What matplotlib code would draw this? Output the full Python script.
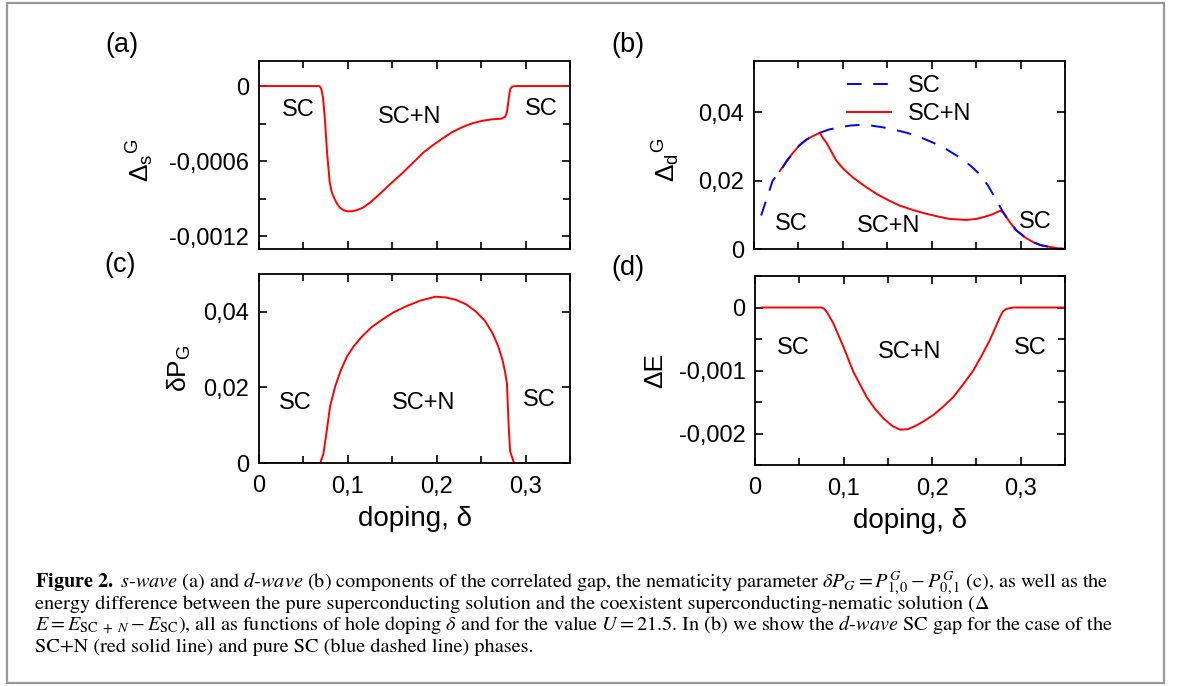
import numpy as np
import matplotlib
matplotlib.use('Agg')
from matplotlib import pyplot as plt
from matplotlib.patches import Rectangle

plt.rcParams['font.family'] = ['Liberation Sans', 'DejaVu Sans']
plt.rcParams['mathtext.fontset'] = 'custom'
plt.rcParams['mathtext.rm'] = 'Liberation Sans'
plt.rcParams['mathtext.it'] = 'Liberation Sans:italic'

# (a) s-wave component of the gap
xs = [0, 0.068, 0.070, 0.072, 0.074, 0.0766, 0.0796, 0.082, 0.085, 0.088, 0.091, 0.095, 0.100,
      0.105, 0.110, 0.117, 0.125, 0.136, 0.148, 0.162, 0.175, 0.185, 0.196, 0.207, 0.218, 0.230,
      0.241, 0.252, 0.263, 0.273, 0.277, 0.279, 0.2805, 0.282, 0.283, 0.285, 0.288, 0.35]
ds = [0, 0, -0.00002, -0.00009, -0.00025, -0.00053, -0.00077, -0.00085, -0.0009, -0.00094,
      -0.00097, -0.00099, -0.001, -0.000998, -0.00099, -0.00097, -0.00093, -0.00086, -0.00078,
      -0.00069, -0.0006, -0.00053, -0.00047, -0.000416, -0.000365, -0.000324, -0.000295,
      -0.000276, -0.000265, -0.00026, -0.000245, -0.00021, -0.00013, -0.00005, -0.00002,
      -0.000005, 0, 0]

# (b) d-wave component, pure SC (blue) and SC+N (red)
xd_sc = [0.008, 0.014, 0.021, 0.031, 0.037, 0.044, 0.051, 0.059, 0.066, 0.074, 0.085, 0.0965,
         0.108, 0.119, 0.132, 0.145, 0.158, 0.172, 0.187, 0.2017, 0.217, 0.232, 0.244, 0.254,
         0.263, 0.271, 0.2805, 0.288, 0.2955, 0.305, 0.314, 0.323, 0.333, 0.342, 0.35]
dd_sc = [0.0098, 0.0145, 0.020, 0.0233, 0.0258, 0.0282, 0.0303, 0.032, 0.033, 0.034, 0.035,
         0.0356, 0.0361, 0.0363, 0.0361, 0.0356, 0.0349, 0.034, 0.0327, 0.0311, 0.0291, 0.0267,
         0.0243, 0.0219, 0.0187, 0.0151, 0.0107, 0.0078, 0.0054, 0.0034, 0.002, 0.0011, 0.0006,
         0.0002, 0.0]
xd_scn = [0.029, 0.037, 0.044, 0.051, 0.059, 0.066, 0.074, 0.0775, 0.0815, 0.087, 0.0928, 0.1,
          0.1115, 0.124, 0.138, 0.151, 0.164, 0.179, 0.194, 0.207, 0.220, 0.239, 0.250, 0.258,
          0.268, 0.277, 0.2805, 0.288, 0.2955, 0.305, 0.314, 0.323, 0.333, 0.342, 0.35]
dd_scn = [0.0228, 0.0258, 0.0282, 0.0303, 0.032, 0.033, 0.034, 0.0325, 0.0311, 0.0285, 0.0258,
          0.0236, 0.0209, 0.0185, 0.0161, 0.0143, 0.0127, 0.0114, 0.0103, 0.0095, 0.0088, 0.0085,
          0.0088, 0.0093, 0.0101, 0.0112, 0.0107, 0.0078, 0.0054, 0.0034, 0.002, 0.0011, 0.0006,
          0.0002, 0.0]

# (c) nematicity parameter
xp = [0, 0.069, 0.0726, 0.0764, 0.080, 0.0858, 0.092, 0.099, 0.107, 0.116, 0.127, 0.1385, 0.151,
      0.165, 0.182, 0.1987, 0.21, 0.2213, 0.233, 0.244, 0.254, 0.2627, 0.269, 0.274, 0.277,
      0.279, 0.281, 0.2826, 0.287, 0.35]
dp = [0, 0, 0.0026, 0.0088, 0.015, 0.0203, 0.0245, 0.0282, 0.031, 0.0335, 0.036, 0.0379, 0.0398,
      0.0414, 0.043, 0.044, 0.0438, 0.0432, 0.042, 0.0401, 0.0377, 0.0344, 0.031, 0.0273, 0.024,
      0.0211, 0.0097, 0.0031, 0, 0]

# (d) energy difference
xe = [0.0075, 0.075, 0.078, 0.081, 0.0884, 0.0997, 0.111, 0.126, 0.135, 0.145, 0.155, 0.164,
      0.173, 0.1825, 0.191, 0.201, 0.212, 0.224, 0.235, 0.2465, 0.256, 0.265, 0.271, 0.2766,
      0.280, 0.284, 0.2917, 0.35]
de = [0, 0, -0.00002, -0.00007, -0.00025, -0.00062, -0.00102, -0.00142, -0.0016, -0.00176,
      -0.00188, -0.00194, -0.00193, -0.00187, -0.0018, -0.00171, -0.00158, -0.00142, -0.00122,
      -0.001, -0.00076, -0.00052, -0.00033, -0.00015, -0.00006, -0.00002, 0, 0]

xticks = [0, 0.1, 0.2, 0.3]
xticklabels = ['0', '0,1', '0,2', '0,3']
yticks_a = [0, -0.0006, -0.0012]
ylabels_a = ['0', '-0,0006', '-0,0012']
yticks_b = [0, 0.02, 0.04]
ylabels_b = ['0', '0,02', '0,04']
yticks_c = [0, 0.02, 0.04]
ylabels_c = ['0', '0,02', '0,04']
yticks_d = [0, -0.001, -0.002]
ylabels_d = ['0', '-0,001', '-0,002']

W, H = 1181, 686
fig = plt.figure(figsize=(W / 100, H / 100), dpi=100)

def box(l, t, r, b):
    return [l / W, 1 - b / H, (r - l) / W, (b - t) / H]

ax_a = fig.add_axes(box(259, 61, 570, 249))
ax_b = fig.add_axes(box(754, 61, 1065, 249))
ax_c = fig.add_axes(box(259, 274, 570, 463))
ax_d = fig.add_axes(box(755, 276, 1065, 465))

red = '#ff0000'
blue = '#0000ff'
fs = 17
fl = 20

ax_a.plot(xs, ds, color=red, lw=1.4)
ax_b.plot(xd_scn, dd_scn, color=red, lw=1.4, label='SC+N')
ax_b.plot(xd_sc, dd_sc, color=blue, lw=1.4, dashes=(7.5, 6), label='SC')
ax_c.plot(xp, dp, color=red, lw=1.4)
ax_d.plot(xe, de, color=red, lw=1.4)

for ax, yt, yl, ylim, ymin in [(ax_a, yticks_a, ylabels_a, (-0.0013, 0.0002), 0.0003),
                                (ax_b, yticks_b, ylabels_b, (0, 0.055), 0.01),
                                (ax_c, yticks_c, ylabels_c, (0, 0.05), 0.01),
                                (ax_d, yticks_d, ylabels_d, (-0.0025, 0.0005), 0.0005)]:
    ax.set_xlim(0, 0.35)
    ax.set_xticks(xticks)
    ax.set_xticks(np.arange(0, 0.36, 0.05), minor=True)
    ax.set_yticks(yt)
    ax.set_yticklabels(yl)
    ax.set_yticks(np.arange(-0.003, 0.006, ymin), minor=True)
    ax.set_ylim(*ylim)
    ax.tick_params(which='both', direction='in', top=True, right=True, width=1.2,
                   labelsize=fs, pad=7)
    ax.tick_params(which='major', length=6)
    ax.tick_params(which='minor', length=5)
    for s in ax.spines.values():
        s.set_linewidth(1.3)

for ax in (ax_a, ax_b):
    ax.set_xticklabels([])
for ax in (ax_c, ax_d):
    ax.set_xticklabels(xticklabels)
    ax.tick_params(axis='x', pad=9)
    ax.set_xlabel('doping, δ', fontsize=fl)
    ax.xaxis.set_label_coords(0.5, -0.225)

ax_a.set_ylabel(r'$\Delta_{\rm s}{}^{\rm G}$', fontsize=19)
ax_a.yaxis.set_label_coords(-0.33, 0.47)
ax_b.set_ylabel(r'$\Delta_{\rm d}{}^{\rm G}$', fontsize=19)
ax_b.yaxis.set_label_coords(-0.23, 0.473)
ax_c.set_ylabel(r'δP$_{\rm G}$', fontsize=19)
ax_c.yaxis.set_label_coords(-0.212, 0.5)
ax_d.set_ylabel('ΔE', fontsize=19)
ax_d.yaxis.set_label_coords(-0.284, 0.5)

# phase annotations
ax_a.text(0.044, -0.00019, 'SC', fontsize=fs, ha='center', va='center')
ax_a.text(0.169, -0.000245, 'SC+N', fontsize=fs, ha='center', va='center')
ax_a.text(0.318, -0.00018, 'SC', fontsize=fs, ha='center', va='center')
ax_b.text(0.042, 0.0074, 'SC', fontsize=fs, ha='center', va='center')
ax_b.text(0.151, 0.0066, 'SC+N', fontsize=fs, ha='center', va='center')
ax_b.text(0.316, 0.0078, 'SC', fontsize=fs, ha='center', va='center')
ax_c.text(0.041, 0.0159, 'SC', fontsize=fs, ha='center', va='center')
ax_c.text(0.185, 0.0159, 'SC+N', fontsize=fs, ha='center', va='center')
ax_c.text(0.315, 0.0167, 'SC', fontsize=fs, ha='center', va='center')
ax_d.text(0.043, -0.00065, 'SC', fontsize=fs, ha='center', va='center')
ax_d.text(0.175, -0.0007, 'SC+N', fontsize=fs, ha='center', va='center')
ax_d.text(0.311, -0.00065, 'SC', fontsize=fs, ha='center', va='center')

h, l = ax_b.get_legend_handles_labels()
ax_b.legend(h[::-1], l[::-1], loc='upper left', bbox_to_anchor=(0.30, 0.925), frameon=False,
            fontsize=fs, handlelength=1.85, handletextpad=0.7, labelspacing=0.25,
            borderpad=0, borderaxespad=0)

# panel letters
for lab, px, py in [('(a)', 122, 45), ('(b)', 628, 45), ('(c)', 120, 265), ('(d)', 628, 268)]:
    fig.text(px / W, 1 - py / H, lab, fontsize=19.5, ha='center', va='center')

# frame around figure and caption
fig.patches.append(Rectangle((7 / W, 3 / H), 1157 / W, 680 / H, transform=fig.transFigure,
                             fill=False, edgecolor='#999999', lw=1.6))

caption = [
    r'$\mathbf{Figure\ 2.}$ $\mathit{s}$-$\mathit{wave}$ (a) and $\mathit{d}$-$\mathit{wave}$ (b) '
    r'components of the correlated gap, the nematicity parameter '
    r'$\delta P_G = P^G_{1,0} - P^G_{0,1}$ (c), as well as the',
    'energy difference between the pure superconducting solution and the coexistent '
    'superconducting-nematic solution (Δ',
    r'$E = E_{\mathrm{SC}\ +\ N} - E_{\mathrm{SC}}$), all as functions of hole doping $\delta$ '
    r'and for the value $U = 21.5$. In (b) we show the $\mathit{d}$-$\mathit{wave}$ SC gap '
    r'for the case of the',
    'SC+N (red solid line) and pure SC (blue dashed line) phases.',
]
for i, line in enumerate(caption):
    fig.text(35 / W, 1 - (587 + i * 21.6) / H, line, fontsize=14.6, family='STIXGeneral',
             math_fontfamily='stix', ha='left', va='baseline')

plt.savefig('out.png', dpi=100)
